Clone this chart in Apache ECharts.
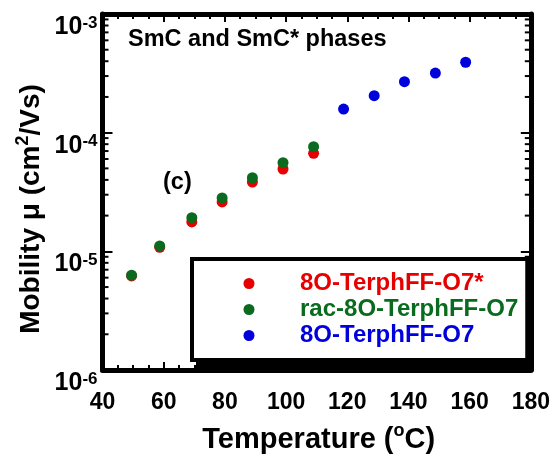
<!DOCTYPE html>
<html><head><meta charset="utf-8">
<script src="https://cdn.jsdelivr.net/npm/echarts@6/dist/echarts.min.js"></script>
<style>html,body{margin:0;padding:0;background:#fff}#c{width:553px;height:454px}</style>
</head><body><div id="c"></div>
<script>
const FONT = 'Arial, "Liberation Sans", sans-serif';

// ---- data ----
const seriesNames = ['8O-TerphFF-O7*', 'rac-8O-TerphFF-O7', '8O-TerphFF-O7'];
const seriesColors = ['#e60000', '#0a6b1f', '#0000dd'];
const tempsChiral = [49.5, 58.7, 69.2, 79.1, 89.0, 99.0, 109.0];
const mobChiral = [6.2e-6, 1.08e-5, 1.77e-5, 2.61e-5, 3.84e-5, 4.94e-5, 6.70e-5];
const tempsRac = [49.5, 58.7, 69.2, 79.1, 89.0, 99.0, 109.0];
const mobRac = [6.3e-6, 1.11e-5, 1.92e-5, 2.82e-5, 4.17e-5, 5.58e-5, 7.62e-5];
const tempsAchiral = [118.8, 128.8, 138.7, 148.8, 158.7];
const mobAchiral = [1.58e-4, 2.05e-4, 2.69e-4, 3.18e-4, 3.92e-4];
const xTicks = [40, 60, 80, 100, 120, 140, 160, 180];
const yDecades = [-6, -5, -4, -3];

// minor (log) ticks 2..9 in each decade
const yMinor = [];
for (let i = 0; i < yDecades.length - 1; i++) {
  for (let m = 2; m <= 9; m++) yMinor.push(m * Math.pow(10, yDecades[i]));
}

const pair = (xs, ys) => xs.map((x, i) => [x, ys[i]]);

const chart = echarts.init(document.getElementById('c'), null, {renderer: 'canvas'});
const axisLine = {show: true, onZero: false, lineStyle: {color: '#000', width: 5}};
const yLabelRich = {
  b: {fontSize: 25, fontWeight: 'bold', fontFamily: FONT, color: '#000', lineHeight: 25, verticalAlign: 'bottom'},
  s: {fontSize: 17, fontWeight: 'bold', fontFamily: FONT, color: '#000', lineHeight: 6, verticalAlign: 'top'}
};
const titleRich = (size, sup) => ({
  t: {fontSize: size, fontWeight: 'bold', fontFamily: FONT, fill: '#000', lineHeight: size + 3, verticalAlign: 'bottom'},
  s: {fontSize: sup, fontWeight: 'bold', fontFamily: FONT, fill: '#000', lineHeight: 14, verticalAlign: 'top'}
});

const option = {
  animation: false,
  backgroundColor: '#fff',
  grid: {left: 102.5, right: 18, top: 14, bottom: 84, containLabel: false},
  xAxis: [{
    type: 'value', min: xTicks[0], max: xTicks[xTicks.length - 1], interval: 20,
    position: 'bottom',
    axisLine: axisLine,
    axisTick: {show: true, inside: true, length: 8, lineStyle: {color: '#000', width: 2}},
    minorTick: {show: true, splitNumber: 4, length: 5, lineStyle: {color: '#000', width: 2}},
    splitLine: {show: false},
    axisLabel: {show: true, margin: 21, fontSize: 23, fontWeight: 'bold', fontFamily: FONT, color: '#000'}
  }, {
    type: 'value', min: xTicks[0], max: xTicks[xTicks.length - 1], interval: 20,
    position: 'top',
    axisLine: axisLine,
    axisTick: {show: true, inside: true, length: 8, lineStyle: {color: '#000', width: 2}},
    minorTick: {show: true, splitNumber: 4, length: 5, lineStyle: {color: '#000', width: 2}},
    splitLine: {show: false},
    axisLabel: {show: false}
  }],
  yAxis: [{
    type: 'log', logBase: 10, min: Math.pow(10, yDecades[0]), max: Math.pow(10, yDecades[yDecades.length - 1]),
    position: 'left',
    axisLine: axisLine,
    axisTick: {show: true, inside: true, length: 10, lineStyle: {color: '#000', width: 2}},
    splitLine: {show: false},
    axisLabel: {
      show: true, margin: 5, padding: [26, 0, 0, 0],
      formatter: v => '{b|10}{s|' + Math.round(Math.log10(v)) + '}',
      rich: yLabelRich
    }
  }, {
    type: 'log', logBase: 10, min: Math.pow(10, yDecades[0]), max: Math.pow(10, yDecades[yDecades.length - 1]),
    position: 'right',
    axisLine: axisLine,
    axisTick: {show: true, inside: true, length: 10, lineStyle: {color: '#000', width: 2}},
    splitLine: {show: false},
    axisLabel: {show: false}
  }],
  legend: {
    show: true, orient: 'vertical', left: 192, top: 259, z: 10,
    icon: 'circle', itemWidth: 11, itemHeight: 11, itemGap: 2,
    padding: [12.5, 9, 12.5, 51.5],
    backgroundColor: '#fff', borderColor: '#000', borderWidth: 4,
    selectedMode: false,
    textStyle: {fontSize: 24, fontWeight: 'bold', fontFamily: FONT, lineHeight: 24, width: 217, padding: [0, 0, 0, 40.5]},
    data: seriesNames.map((n, i) => ({name: n, textStyle: {color: seriesColors[i]}}))
  },
  graphic: [
    {type: 'rect', z: 9, shape: {x: 196, y: 263, width: 338, height: 105}, style: {fill: '#000'}},
    {type: 'text', x: 128, y: 40, z: 100, style: {text: 'SmC and SmC* phases', font: 'bold 23.5px ' + FONT, fill: '#000', align: 'left', verticalAlign: 'middle'}},
    {type: 'text', x: 163, y: 183, z: 100, style: {text: '(c)', font: 'bold 23.5px ' + FONT, fill: '#000', align: 'left', verticalAlign: 'middle'}},
    {type: 'text', x: 318.7, y: 438, z: 100, style: {
      text: '{t|Temperature (}{s|o}{t|C)}', align: 'center', verticalAlign: 'middle',
      rich: titleRich(29, 18)}},
    {type: 'text', x: 30, y: 209, rotation: Math.PI / 2, z: 100, style: {
      text: '{t|Mobility μ (cm}{s|2}{t|/Vs)}', align: 'center', verticalAlign: 'middle',
      rich: titleRich(28, 18)}}
  ],
  series: [
    {name: seriesNames[0], type: 'scatter', symbol: 'circle', symbolSize: 11, itemStyle: {color: seriesColors[0], opacity: 1}, data: pair(tempsChiral, mobChiral), z: 3},
    {name: seriesNames[1], type: 'scatter', symbol: 'circle', symbolSize: 11, itemStyle: {color: seriesColors[1], opacity: 1}, data: pair(tempsRac, mobRac), z: 4},
    {name: seriesNames[2], type: 'scatter', symbol: 'circle', symbolSize: 11, itemStyle: {color: seriesColors[2], opacity: 1}, data: pair(tempsAchiral, mobAchiral), z: 5},
    {
      name: 'yMinorTicks', type: 'custom', silent: true, clip: false, z: 6,
      data: yMinor.map(v => [xTicks[0], v]),
      renderItem: (params, api) => {
        const p = api.coord([api.value(0), api.value(1)]);
        const cs = params.coordSys;
        const st = {stroke: '#000', lineWidth: 2};
        return {type: 'group', children: [
          {type: 'line', shape: {x1: cs.x, y1: p[1], x2: cs.x + 6, y2: p[1]}, style: st},
          {type: 'line', shape: {x1: cs.x + cs.width - 6, y1: p[1], x2: cs.x + cs.width, y2: p[1]}, style: st}
        ]};
      }
    }
  ]
};
chart.setOption(option);
</script></body></html>
